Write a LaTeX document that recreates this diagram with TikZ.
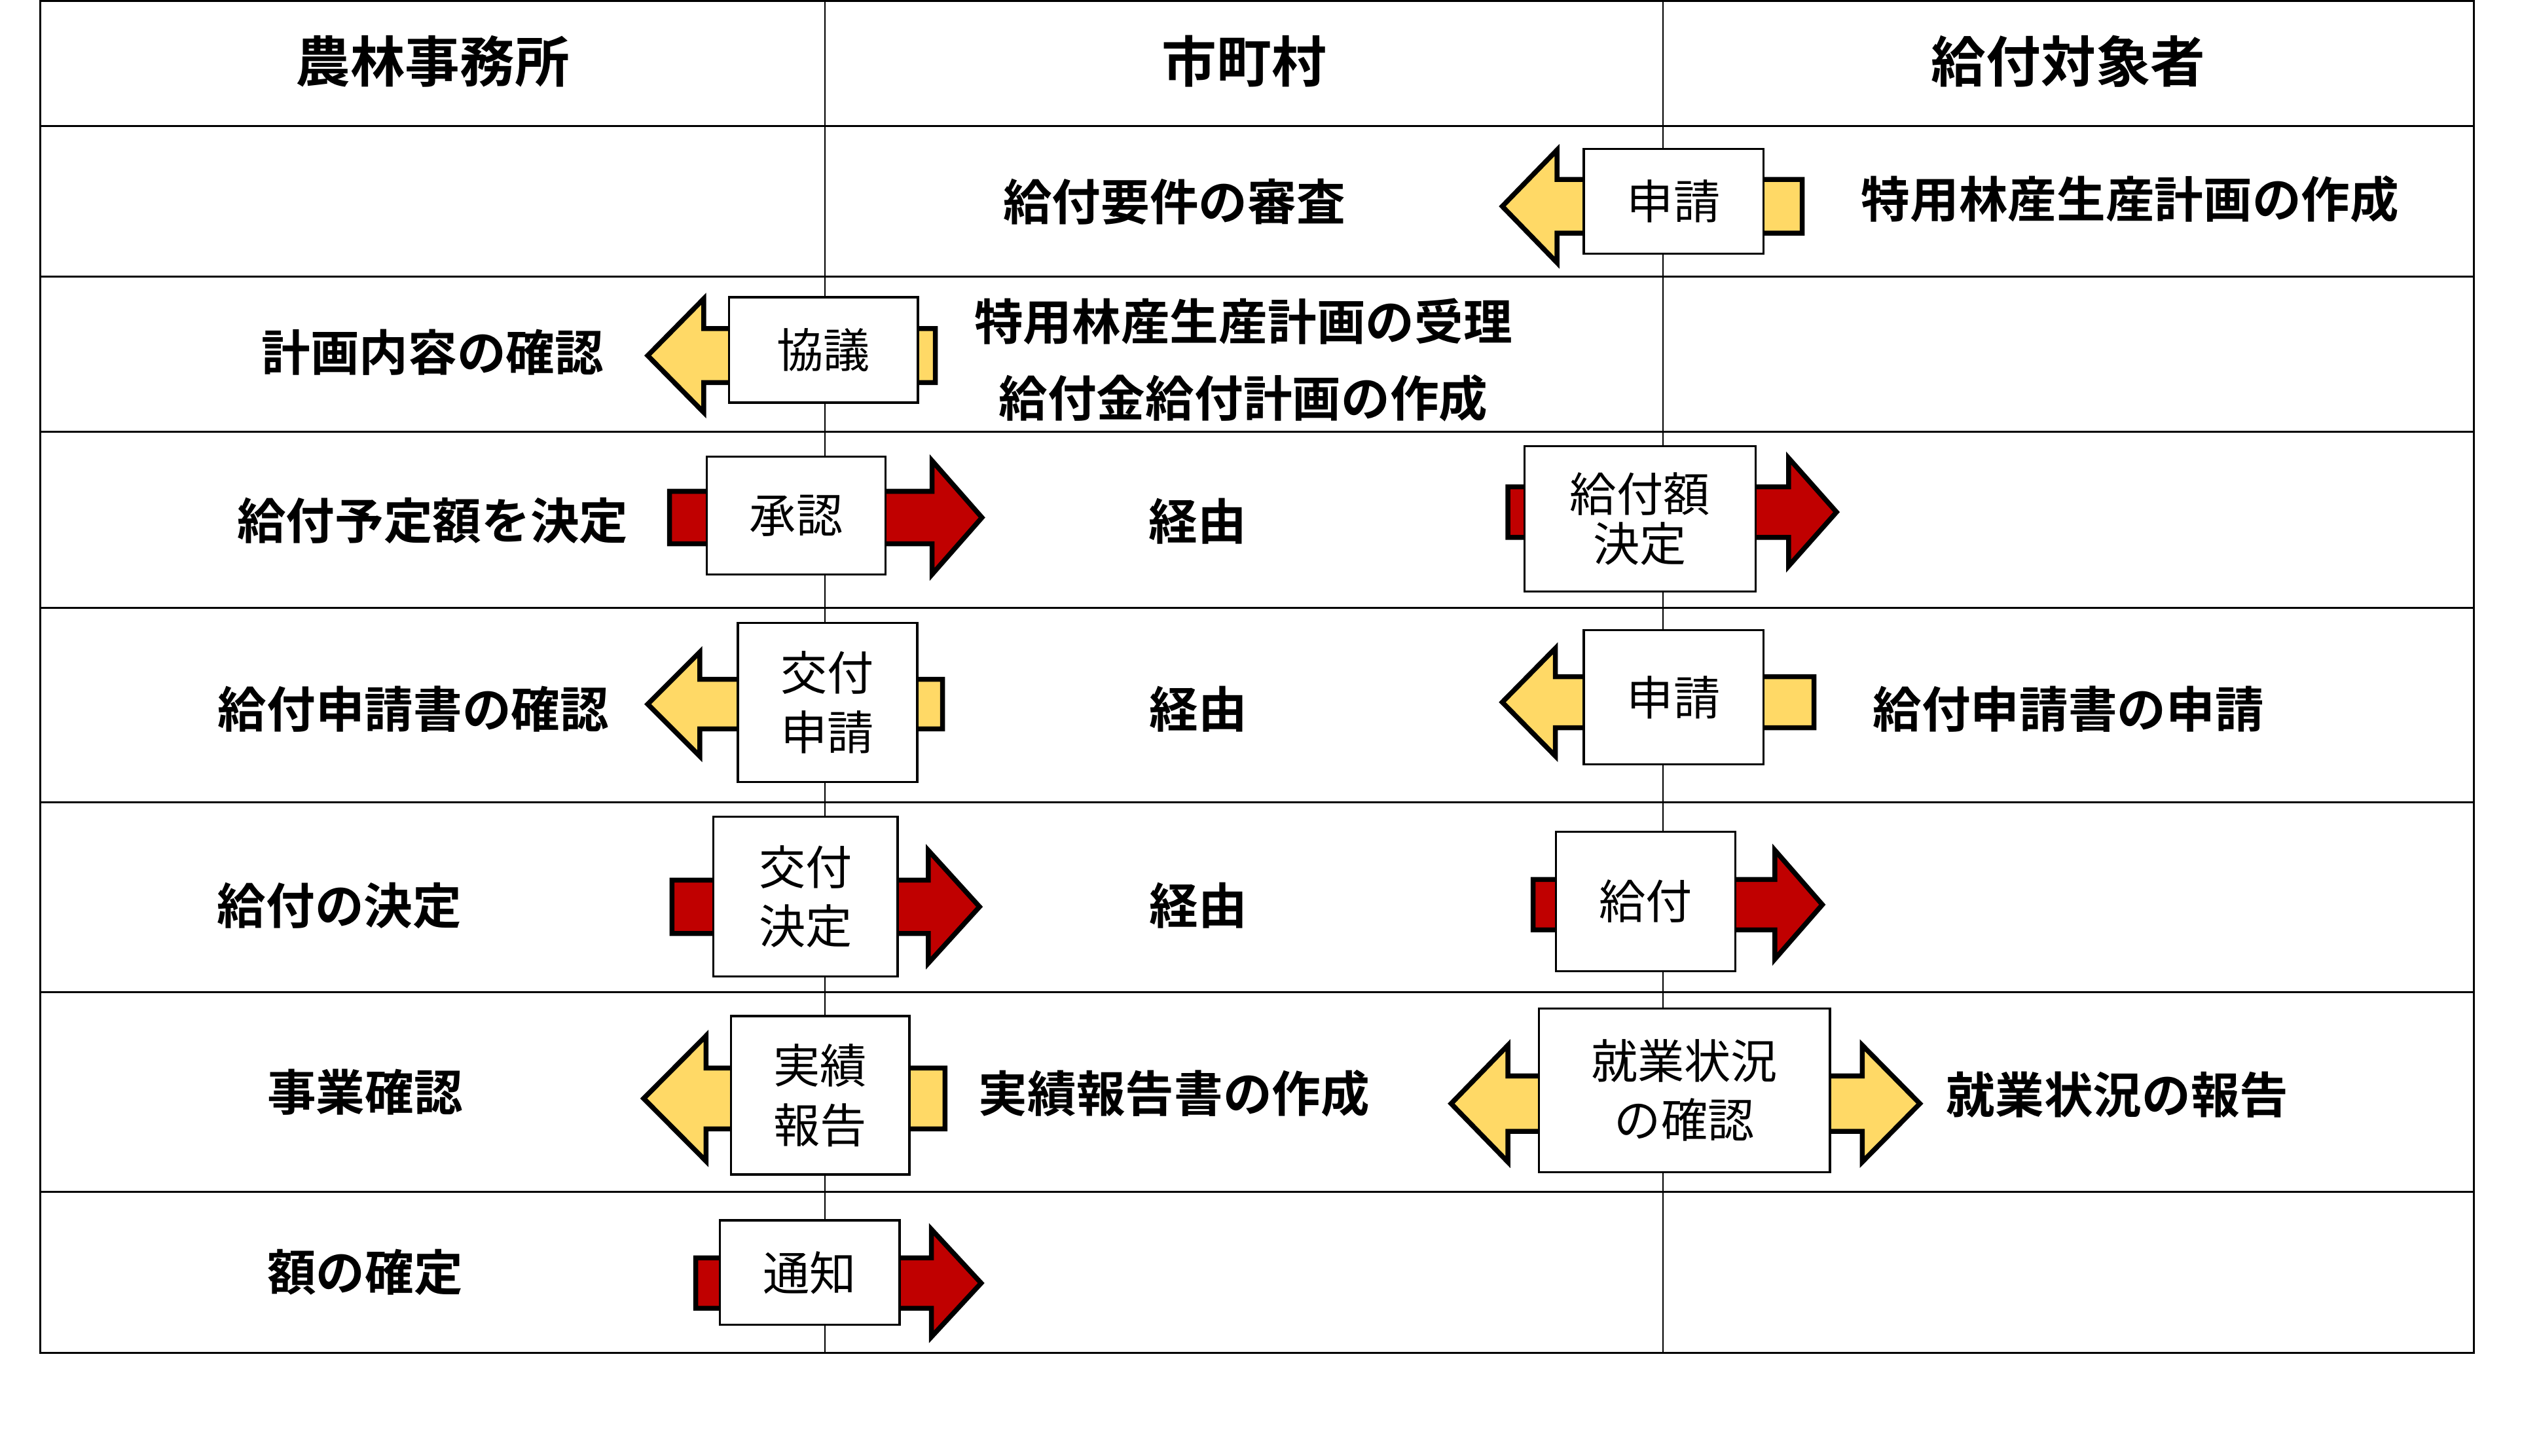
\documentclass[tikz,border=0pt]{standalone}
\usepackage{fontspec}
\setmainfont{Noto Sans CJK JP}[BoldFont={Noto Sans CJK JP Bold}]
\definecolor{argold}{HTML}{FFD966}
\definecolor{arred}{HTML}{C00000}
\newlength{\gridu}
\setlength{\gridu}{0.02cm}
% block arrow: [style]{y}{tail x}{head base x}{tip x}{shaft half}{head half}
\newcommand{\blkarrow}[7][]{%
  \draw[#1] (#3,#2-#6) -- (#4,#2-#6) -- (#4,#2-#7) -- (#5,#2)
    -- (#4,#2+#7) -- (#4,#2+#6) -- (#3,#2+#6) -- cycle;}

\begin{document}
\begin{tikzpicture}[x=0.02cm, y=-0.02cm,
  hdr/.style={font=\fontsize{19.4pt}{23pt}\selectfont\bfseries, inner sep=0pt},
  lbl/.style={font=\fontsize{17.3pt}{21pt}\selectfont\bfseries, inner sep=0pt},
  stepbox/.style 2 args={draw, line width=0.76pt, fill=white, inner sep=0pt,
    align=center, minimum width=#1\gridu, minimum height=#2\gridu,
    font=\fontsize{16.5pt}{21pt}\selectfont},
  yarr/.style={draw, fill=argold, line width=1.74pt},
  rarr/.style={draw, fill=arred, line width=1.74pt}]

\useasboundingbox (0,0) rectangle (1568,905);

% --- Table ---
\draw[line width=0.7pt] (25,0.8) rectangle (1538,841);
\foreach \y in {78.5,172,268.5,378,499,617,741}
  \draw[line width=0.7pt] (25,\y) -- (1538,\y);
\foreach \x in {513,1034}
  \draw[line width=0.55pt] (\x,0.8) -- (\x,841);

% --- Headers ---
\node[hdr] (h1) at (269,38) {農林事務所};
\node[hdr] (h2) at (773.5,38) {市町村};
\node[hdr] (h3) at (1286,38) {給付対象者};

% --- Row texts ---
\node[lbl] (t12) at (730,125.6) {給付要件の審査};
\node[lbl] (t13) at (1324.4,124) {特用林産生産計画の作成};
\node[lbl] (t21) at (269,219) {計画内容の確認};
\node[lbl] (t22) at (773,200) {特用林産生産計画の受理};
\node[lbl] (t22b) at (773,247.5) {給付金給付計画の作成};
\node[lbl] (t31) at (269,323.6) {給付予定額を決定};
\node[lbl] (t32) at (744.7,324) {経由};
\node[lbl] (t41) at (257,441) {給付申請書の確認};
\node[lbl] (t42) at (745,441) {経由};
\node[lbl] (t43) at (1286,441) {給付申請書の申請};
\node[lbl] (t51) at (211,563) {給付の決定};
\node[lbl] (t52) at (745,563) {経由};
\node[lbl] (t61) at (227,679) {事業確認};
\node[lbl] (t62) at (730,680) {実績報告書の作成};
\node[lbl] (t63) at (1316.5,680.5) {就業状況の報告};
\node[lbl] (t71) at (227,791) {額の確定};

% --- Arrows (behind the boxes) ---
\blkarrow[yarr]{128.3}{1120.5}{968}{934}{16.7}{35}
\blkarrow[yarr]{221.1}{581.5}{437.5}{402.7}{16.8}{35.3}
\blkarrow[rarr]{321.8}{416.3}{579.5}{610.5}{16.3}{35.3}
\blkarrow[rarr]{318.4}{937.5}{1112}{1141.8}{15.7}{33.6}
\blkarrow[yarr]{437.8}{586}{435.1}{402.7}{15.4}{32.4}
\blkarrow[yarr]{436.6}{1127.8}{967}{934}{15.9}{33.5}
\blkarrow[rarr]{563.8}{417.8}{577.2}{609}{16.6}{35}
\blkarrow[rarr]{562.5}{953.2}{1103.5}{1133}{15.7}{33.8}
\blkarrow[yarr]{683}{587.5}{439}{400.2}{18.9}{39}
\blkarrow[rarr]{797.8}{432.5}{579.1}{610}{15.7}{33.4}
% double arrow
\draw[yarr] (902.2,686.2) -- (937.5,649.9) -- (937.5,669) -- (1157.8,669)
  -- (1157.8,649.9) -- (1193.6,686.2) -- (1157.8,722.5) -- (1157.8,703.4)
  -- (937.5,703.4) -- (937.5,722.5) -- cycle;

% --- Boxes ---
\node[stepbox={111.6}{65.2}] (b1) at (1040.5,125.2) {申請};
\node[stepbox={117.4}{65.6}] (b2) at (512,217.6) {協議};
\node[stepbox={111}{73.2}] (b3) at (495,320.6) {承認};
\node[stepbox={143.6}{90.2}, font=\fontsize{16.5pt}{17.6pt}\selectfont] (b4) at (1019.6,322.6) {給付額\\決定};
\node[stepbox={111.5}{99}] (b5) at (514.5,436.8) {交付\\申請};
\node[stepbox={111.6}{83.4}] (b6) at (1040.5,433.5) {申請};
\node[stepbox={114.5}{99.1}] (b7) at (500.8,557.5) {交付\\決定};
\node[stepbox={111.5}{86.7}] (b8) at (1023.2,560.4) {給付};
\node[stepbox={111.1}{98.6}] (b9) at (509.9,681) {実績\\報告};
\node[stepbox={181.1}{101.7}] (b10) at (1047.2,677.9) {就業状況\\の確認};
\node[stepbox={111.9}{65}] (b11) at (503.4,791.3) {通知};

\end{tikzpicture}
\end{document}
